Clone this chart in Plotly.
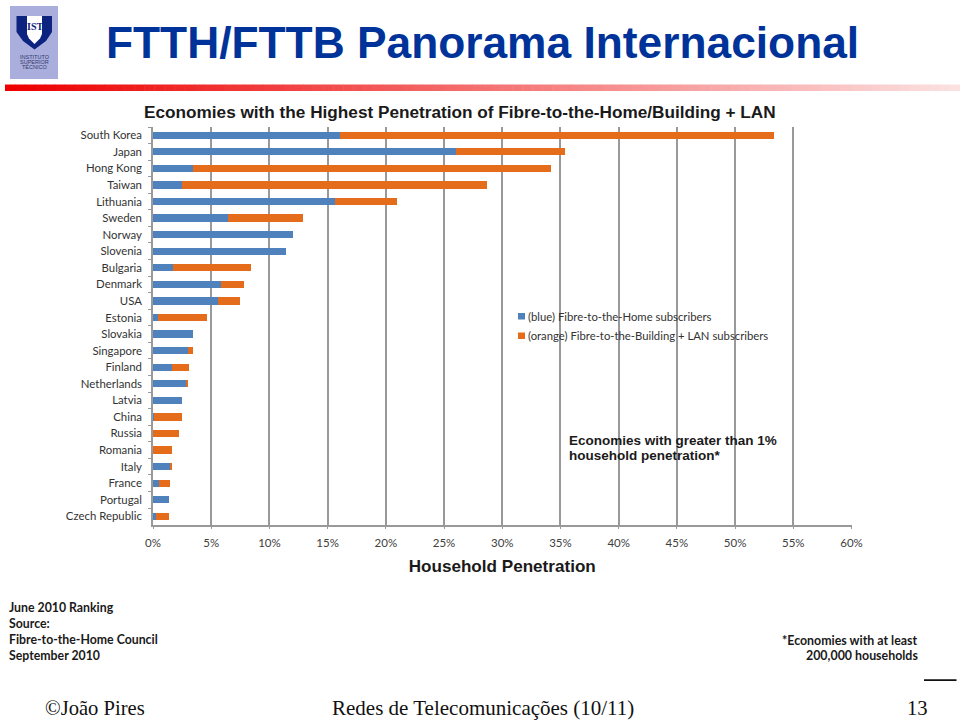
import plotly.graph_objects as go

categories = ["South Korea", "Japan", "Hong Kong", "Taiwan", "Lithuania", "Sweden", "Norway", "Slovenia",
              "Bulgaria", "Denmark", "USA", "Estonia", "Slovakia", "Singapore", "Finland", "Netherlands",
              "Latvia", "China", "Russia", "Romania", "Italy", "France", "Portugal", "Czech Republic"]
ftth = [16.1, 26.0, 3.4, 2.5, 15.6, 6.4, 12.0, 11.4, 1.7, 5.8, 5.6, 0.4, 3.4, 3.0, 1.6, 2.8, 2.5, 0.1, 0.0, 0.0, 1.5, 0.5, 1.4, 0.3]
fttb = [37.2, 9.4, 30.8, 26.2, 5.4, 6.5, 0.0, 0.0, 6.7, 2.0, 1.9, 4.2, 0.0, 0.4, 1.5, 0.2, 0.0, 2.4, 2.2, 1.6, 0.1, 1.0, 0.0, 1.1]
series_names = ["(blue) Fibre-to-the-Home subscribers", "(orange) Fibre-to-the-Building + LAN subscribers"]
colors = ["#4f81bd", "#e46c1a"]
W, H = 960, 721


def px(x):
    return x / W


def py(y):
    return 1 - y / H


fig = go.Figure()
fig.add_bar(y=categories, x=ftth, orientation="h", name=series_names[0], marker=dict(color=colors[0], line_width=0))
fig.add_bar(y=categories, x=fttb, orientation="h", name=series_names[1], marker=dict(color=colors[1], line_width=0))

annotations = []


def text(x, y, s, size, color="#1a1a1a", family="Liberation Sans", bold=False, anchor="left"):
    annotations.append(dict(xref="paper", yref="paper", x=px(x), y=py(y), text=f"<b>{s}</b>" if bold else s,
                            showarrow=False, xanchor=anchor, yanchor="middle", align=anchor,
                            font=dict(size=size, color=color, family=family), borderpad=0, borderwidth=0))


shapes = []


def rect(x0, y0, x1, y1, color):
    shapes.append(dict(type="rect", xref="paper", yref="paper", x0=px(x0), x1=px(x1), y0=py(y0), y1=py(y1),
                       fillcolor=color, line_width=0, layer="above"))


# red gradient rule under the title
steps = 96
for i in range(steps):
    t = i / (steps - 1)
    g = int(0 + t * 225)
    c = f"rgb({int(238 + t * 14)},{g},{g})"
    rect(5 + i * 955 / steps, 84.5, 5 + (i + 1) * 955 / steps + 0.5, 91, c)

# logo
rect(10, 6, 58, 79, "#a9aedd")
shield = [(16.5, 16), (52, 16), (52, 32), (46, 41), (34.5, 49.5), (23, 41), (16.5, 32)]
inner = [(27, 16), (42, 16), (42, 34), (40, 38.5), (34.5, 44), (29, 38.5), (27, 34)]


def poly(points, color):
    path = "M" + "L".join(f"{px(a)},{py(b)}" for a, b in points) + "Z"
    shapes.append(dict(type="path", xref="paper", yref="paper", path=path, fillcolor=color, line_width=0, layer="above"))


poly(shield, "#0d2380")
poly(inner, "#ffffff")
text(34.5, 27, "IST", 10, "#0d2380", "Liberation Serif", True, "center")
for y, s in zip([57, 62, 67.5], ["INSTITUTO", "SUPERIOR", "TÉCNICO"]):
    text(34.5, y, s, 5.5, "#33386b", "Liberation Sans", False, "center")

# title and header
text(105.5, 43, "FTTH/FTTB Panorama Internacional", 44.3, "#003399", "Liberation Sans", True)
text(144, 112.5, "Economies with the Highest Penetration of Fibre-to-the-Home/Building + LAN", 17.2, "#1a1a1a", "Liberation Sans", True)

# legend
rect(518, 313, 525, 319.5, colors[0])
rect(518, 332.5, 525, 339, colors[1])
text(528, 316.5, series_names[0], 11.3, "#333333", "Lato")
text(528, 335.5, series_names[1], 11.3, "#333333", "Lato")

# notes
text(568.5, 440.5, "Economies with greater than 1%", 13.5, "#1a1a1a", "Liberation Sans", True)
text(568.5, 455, "household penetration*", 13.5, "#1a1a1a", "Liberation Sans", True)
for y, s in zip([607.5, 623.5, 639.5, 655.5], ["June 2010 Ranking", "Source:", "Fibre-to-the-Home Council", "September 2010"]):
    text(8.5, y, s, 12.3, "#1a1a1a", "Lato", True)
text(918, 640, "*Economies with at least", 12.4, "#1a1a1a", "Lato", True, "right")
text(918, 655.5, "200,000 households", 12.4, "#1a1a1a", "Lato", True, "right")

# footer
text(45, 707.5, "©João Pires", 20.6, "#111111", "Liberation Serif")
text(332, 707.5, "Redes de Telecomunicações (10/11)", 21, "#111111", "Liberation Serif")
text(907, 707.5, "13", 20.6, "#111111", "Liberation Serif")
rect(924, 679.3, 956.5, 681, "#111111")

fig.update_layout(
    barmode="stack", bargap=0.56, width=W, height=H, margin=dict(l=0, r=0, t=0, b=0, autoexpand=False),
    paper_bgcolor="white", plot_bgcolor="white", showlegend=False,
    shapes=shapes, annotations=annotations,
    xaxis=dict(domain=[px(153), px(851.5)], range=[0, 60], dtick=5, ticksuffix="%", showgrid=True,
               gridcolor="#999999", gridwidth=1.5, zeroline=False, showline=True, linecolor="#999999", linewidth=1.5,
               ticks="outside", ticklen=3, tickcolor="#999999", ticklabelstandoff=4,
               tickfont=dict(family="Lato", size=11.5, color="#404040"),
               title=dict(text="<b>Household Penetration</b>", standoff=12,
                          font=dict(family="Liberation Sans", size=17.1, color="#1a1a1a"))),
    yaxis=dict(domain=[py(524.6), py(127)], type="category", categoryorder="array", categoryarray=categories,
               autorange="reversed", showgrid=False, zeroline=False, showline=True, linecolor="#999999", linewidth=1.5,
               ticks="outside", ticklen=3, tickcolor="#999999", tickson="boundaries", ticklabelstandoff=7,
               tickfont=dict(family="Lato", size=11.4, color="#333333")),
)
fig.write_html("out.html", config={"displayModeBar": False},
               post_script="document.documentElement.style.margin='0';document.body.style.margin='0';")
